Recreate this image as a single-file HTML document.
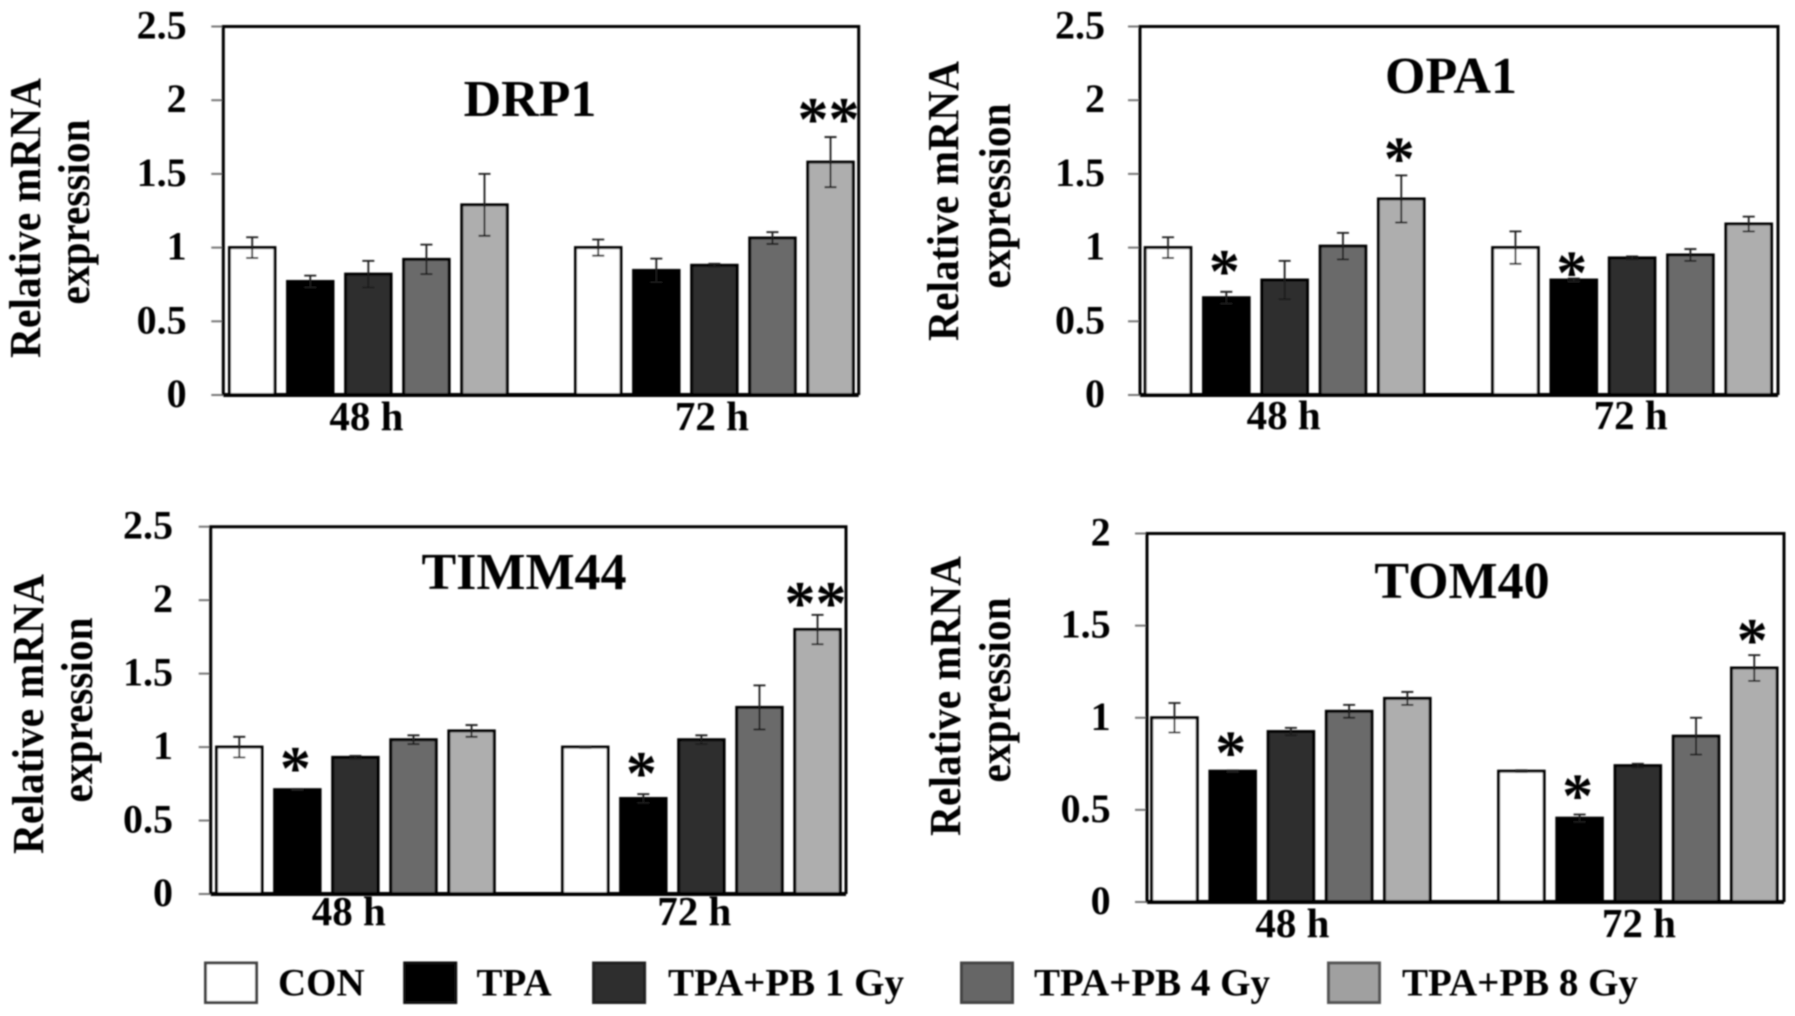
<!DOCTYPE html>
<html lang="en">
<head>
<meta charset="utf-8">
<title>Relative mRNA expression of DRP1, OPA1, TIMM44 and TOM40</title>
<style>
html,body{margin:0;padding:0;background:#fff;width:1795px;height:1016px;overflow:hidden}
svg{display:block}
text{font-family:"Liberation Serif",serif;font-weight:bold;fill:#000}
</style>
</head>
<body>
<svg id="figure" xmlns="http://www.w3.org/2000/svg" width="1795" height="1016" viewBox="0 0 1795 1016">
  <defs><filter id="soft" x="-2%" y="-2%" width="104%" height="104%"><feGaussianBlur stdDeviation="0.7"/></filter></defs>
  <g id="root" filter="url(#soft)">
    <g font-size="44">
      <text text-anchor="middle" textLength="280" lengthAdjust="spacingAndGlyphs" transform="translate(40 218) rotate(-90)">Relative mRNA</text>
      <text text-anchor="middle" textLength="185" lengthAdjust="spacingAndGlyphs" transform="translate(89 212) rotate(-90)">expression</text>
      <text text-anchor="middle" textLength="280" lengthAdjust="spacingAndGlyphs" transform="translate(958 201) rotate(-90)">Relative mRNA</text>
      <text text-anchor="middle" textLength="185" lengthAdjust="spacingAndGlyphs" transform="translate(1010 196) rotate(-90)">expression</text>
      <text text-anchor="middle" textLength="280" lengthAdjust="spacingAndGlyphs" transform="translate(43 714) rotate(-90)">Relative mRNA</text>
      <text text-anchor="middle" textLength="185" lengthAdjust="spacingAndGlyphs" transform="translate(92 710) rotate(-90)">expression</text>
      <text text-anchor="middle" textLength="280" lengthAdjust="spacingAndGlyphs" transform="translate(960 696) rotate(-90)">Relative mRNA</text>
      <text text-anchor="middle" textLength="185" lengthAdjust="spacingAndGlyphs" transform="translate(1010 690) rotate(-90)">expression</text>
    </g>
    <g font-size="52" text-anchor="middle">
      <text x="530" y="116">DRP1</text>
      <text x="1451" y="93">OPA1</text>
      <text x="524" y="589">TIMM44</text>
      <text x="1462" y="598">TOM40</text>
    </g>
    <g id="panels"></g>
    <g font-size="39">
      <g>
        <rect x="205.5" y="963" width="51" height="39.5" fill="#fff" stroke="#444" stroke-width="3"/>
        <text x="278" y="995.5">CON</text>
      </g>
      <g>
        <rect x="404.7" y="963" width="51" height="39.5" fill="#000" stroke="#111" stroke-width="3"/>
        <text x="476.5" y="995.5">TPA</text>
      </g>
      <g>
        <rect x="593.6" y="963" width="51" height="39.5" fill="#2f2f2f" stroke="#222" stroke-width="3"/>
        <text x="668" y="995.5">TPA+PB 1 Gy</text>
      </g>
      <g>
        <rect x="961.5" y="963" width="51" height="39.5" fill="#666" stroke="#444" stroke-width="3"/>
        <text x="1034" y="995.5">TPA+PB 4 Gy</text>
      </g>
      <g>
        <rect x="1328.5" y="963" width="51" height="39.5" fill="#a0a0a0" stroke="#555" stroke-width="3"/>
        <text x="1402" y="995.5">TPA+PB 8 Gy</text>
      </g>
    </g>
  </g>
</svg>
<script>
// ---- data ----
const timeLabels = ['48 h', '72 h'];
const seriesNames = ['con', 'tpa', 'pb-1gy', 'pb-4gy', 'pb-8gy'];
const ticks25 = ['0', '0.5', '1', '1.5', '2', '2.5'];
const ticks20 = ['0', '0.5', '1', '1.5', '2'];

const drp1Values = [[1.0, 0.77, 0.82, 0.92, 1.29], [1.0, 0.845, 0.88, 1.065, 1.58]];
const drp1Errors = [[0.07, 0.04, 0.09, 0.10, 0.21], [0.055, 0.08, 0.01, 0.04, 0.17]];
const drp1Stars = [[1, 4, '**', 13]];

const opa1Values = [[1.0, 0.66, 0.78, 1.01, 1.33], [1.0, 0.78, 0.93, 0.95, 1.16]];
const opa1Errors = [[0.07, 0.04, 0.13, 0.09, 0.16], [0.11, 0.01, 0.01, 0.04, 0.05]];
const opa1Stars = [[0, 1, '*', 16], [0, 4, '*', 12], [1, 1, '*', 1]];

const timm44Values = [[1.0, 0.71, 0.93, 1.05, 1.11], [1.0, 0.65, 1.05, 1.27, 1.80]];
const timm44Errors = [[0.07, 0.004, 0.01, 0.03, 0.04], [0.005, 0.03, 0.03, 0.15, 0.10]];
const timm44Stars = [[0, 1, '*', 16], [1, 1, '*', 16], [1, 4, '**', 7]];

const tom40Values = [[1.0, 0.71, 0.925, 1.035, 1.105], [0.71, 0.455, 0.74, 0.90, 1.27]];
const tom40Errors = [[0.08, 0.004, 0.02, 0.035, 0.035], [0.005, 0.02, 0.01, 0.10, 0.07]];
const tom40Stars = [[0, 1, '*', 13], [1, 1, '*', 14], [1, 4, '*', 10]];

// ---- layout ----
const barFills = ['#ffffff', '#000000', '#2f2f2f', '#6a6a6a', '#aeaeae'];
const panels = [
  {id: 'drp1', left: 223.3, right: 858.7, top: 26.5, bottom: 395, yMax: 2.5, ticks: ticks25, values: drp1Values, errors: drp1Errors, stars: drp1Stars, tickGap: 36.7, catDrop: 35, catShift: 0, barShift: -1},
  {id: 'opa1', left: 1140, right: 1778, top: 26.5, bottom: 395, yMax: 2.5, ticks: ticks25, values: opa1Values, errors: opa1Errors, stars: opa1Stars, tickGap: 35, catDrop: 34, catShift: 0, barShift: -2},
  {id: 'timm44', left: 210.7, right: 846, top: 526.7, bottom: 894, yMax: 2.5, ticks: ticks25, values: timm44Values, errors: timm44Errors, stars: timm44Stars, tickGap: 37.7, catDrop: 31, catShift: -5, barShift: -1.3},
  {id: 'tom40', left: 1147, right: 1784, top: 533.5, bottom: 902, yMax: 2, ticks: ticks20, values: tom40Values, errors: tom40Errors, stars: tom40Stars, tickGap: 36.4, catDrop: 35, catShift: 2, barShift: -2.5}
];

const NS = 'http://www.w3.org/2000/svg';
function make(tag, attrs, parent) {
  const node = document.createElementNS(NS, tag);
  for (const k in attrs) node.setAttribute(k, attrs[k]);
  parent.appendChild(node);
  return node;
}

const host = document.getElementById('panels');

panels.forEach(function (p) {
  const W = p.right - p.left;
  const yOf = function (v) { return p.bottom - (v / p.yMax) * (p.bottom - p.top); };
  const barW = W * 0.0715;
  const barLeft = function (g, s) { return p.left + W * (0.0113 + g * 0.5446 + s * 0.0914) + p.barShift; };
  const groupCenter = function (g) { return p.left + W * (0.2252 + g * 0.5438) + p.catShift; };

  const g = make('g', {}, host);
  
  

  // y ticks + labels
  p.ticks.forEach(function (label) {
    const y = yOf(parseFloat(label));
    const tick = make('line', {x1: p.left - 12, x2: p.left, y1: y, y2: y, stroke: '#777', 'stroke-width': 2}, g);
    
    
    const t = make('text', {x: p.left - p.tickGap, y: y + 12, 'font-size': 40, 'text-anchor': 'end'}, g);
    t.textContent = label;
    
    
  });

  // bars + error bars
  p.values.forEach(function (row, gi) {
    row.forEach(function (v, si) {
      const x = barLeft(gi, si);
      const top = yOf(v);
      const bar = make('rect', {x: x, y: top, width: barW, height: p.bottom - top, fill: barFills[si], stroke: '#000', 'stroke-width': 3}, g);
      
      

      const err = p.errors[gi][si];
      const cx = x + barW / 2;
      const y1 = yOf(v + err);
      const y2 = yOf(v - err);
      const whisker = make('path', {
        d: 'M' + cx + ' ' + y1 + 'V' + y2 + 'M' + (cx - 6) + ' ' + y1 + 'H' + (cx + 6) + 'M' + (cx - 6) + ' ' + y2 + 'H' + (cx + 6),
        fill: 'none', stroke: '#1a1a1a', 'stroke-width': 1.8
      }, g);
      
      
    });
  });

  // significance stars
  p.stars.forEach(function (s) {
    const gi = s[0], si = s[1], label = s[2], gap = s[3];
    const cx = barLeft(gi, si) + barW / 2 - 2;
    const errTop = yOf(p.values[gi][si] + p.errors[gi][si]);
    const t = make('text', {x: cx, y: errTop - gap + 16, 'font-size': 62, 'text-anchor': 'middle'}, g);
    t.textContent = label;
    
    
  });

  // frame
  const frame = make('path', {
    d: 'M' + p.left + ' ' + p.bottom + 'V' + p.top + 'H' + p.right + 'V' + p.bottom,
    fill: 'none', stroke: '#000', 'stroke-width': 3
  }, g);
  
  
  const axis = make('line', {x1: p.left, x2: p.right, y1: p.bottom, y2: p.bottom, stroke: '#000', 'stroke-width': 4}, g);
  
  

  // category labels
  timeLabels.forEach(function (label, gi) {
    const t = make('text', {x: groupCenter(gi), y: p.bottom + p.catDrop, 'font-size': 41, 'text-anchor': 'middle'}, g);
    t.textContent = label;
    
    
  });
});
</script>
</body>
</html>
